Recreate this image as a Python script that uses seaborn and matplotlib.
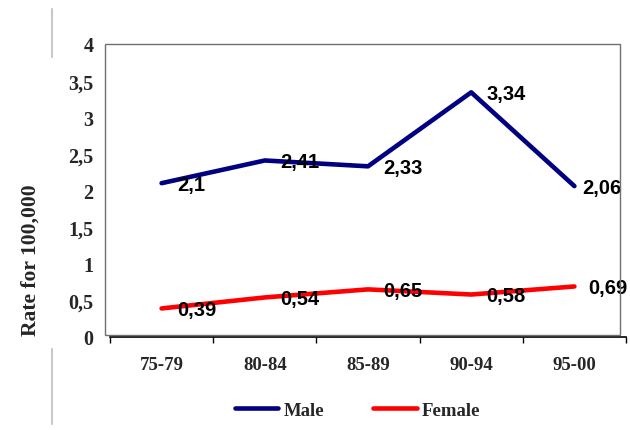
import pandas as pd
import matplotlib.pyplot as plt
import seaborn as sns
from matplotlib.lines import Line2D
from matplotlib.patches import Rectangle

# --- DATA ---
PERIODS = ['75-79', '80-84', '85-89', '90-94', '95-00']
MALE = [2.1, 2.41, 2.33, 3.34, 2.06]
FEMALE = [0.39, 0.54, 0.65, 0.58, 0.69]
Y_TICKS = [0, 0.5, 1, 1.5, 2, 2.5, 3, 3.5, 4]
Y_TICK_LABELS = ['0', '0,5', '1', '1,5', '2', '2,5', '3', '3,5', '4']

# --- STYLE ---
COLOR_MALE = '#000080'
COLOR_FEMALE = '#ff0000'
SERIF = ['Liberation Serif', 'DejaVu Serif']
SANS = ['Liberation Sans', 'DejaVu Sans']

sns.set_style('white')
plt.rcParams['font.family'] = SANS

df = pd.DataFrame({
    'period': PERIODS * 2,
    'rate': MALE + FEMALE,
    'sex': ['Male'] * len(PERIODS) + ['Female'] * len(PERIODS),
})

fig = plt.figure(figsize=(6.3, 4.31), dpi=100)
ax = fig.add_axes([110 / 630, 93 / 431, 516 / 630, 293 / 431])

sns.lineplot(data=df, x='period', y='rate', hue='sex', ax=ax,
             palette={'Male': COLOR_MALE, 'Female': COLOR_FEMALE},
             linewidth=3.3, legend=False, sort=False)

ax.set_xlim(-0.5, len(PERIODS) - 0.5)
ax.set_ylim(0, 4)

# ticks at category boundaries, labels in the middle
ax.set_xticks([i - 0.5 for i in range(len(PERIODS) + 1)])
ax.set_xticklabels([])
ax.set_xticks(range(len(PERIODS)), minor=True)
ax.set_xticklabels(PERIODS, minor=True, fontfamily=SERIF,
                   fontweight='bold', fontsize=13.5)
ax.tick_params(axis='x', which='major', direction='out', length=4.5,
               width=1, color='black', bottom=True)
ax.tick_params(axis='x', which='minor', length=0, pad=14)

ax.set_yticks(Y_TICKS)
ax.set_yticklabels(Y_TICK_LABELS, fontfamily=SERIF, fontweight='bold',
                   fontsize=14.5)
ax.tick_params(axis='y', length=0, pad=12)

ax.set_xlabel('')
ax.set_ylabel('')
for side in ['top', 'right', 'left']:
    ax.spines[side].set_visible(False)
ax.spines['bottom'].set_color('black')
ax.spines['bottom'].set_linewidth(1.2)

# plot area border (slightly offset from the category axis, as in Excel)
fig.patches.append(Rectangle((105 / 630, 95 / 431), 515 / 630, 291 / 431,
                             transform=fig.transFigure, fill=False,
                             edgecolor='#707070', linewidth=1.0))

# data labels
male_dx = [11, 11, 11, 11, 6]
female_dx = [11, 11, 11, 11, 10]
for i, v in enumerate(MALE):
    ax.annotate(f'{v:g}'.replace('.', ','), (i, v), xytext=(male_dx[i], -1),
                textcoords='offset points', ha='left', va='center',
                fontsize=14.5, fontweight='bold', color='black')
for i, v in enumerate(FEMALE):
    ax.annotate(f'{v:g}'.replace('.', ','), (i, v), xytext=(female_dx[i], -1),
                textcoords='offset points', ha='left', va='center',
                fontsize=14.5, fontweight='bold', color='black')

fig.text(31 / 630, 1 - 260 / 431, 'Rate for 100,000', rotation=90,
         ha='center', va='center', fontfamily=SERIF, fontweight='bold',
         fontsize=15.5)

# stray chart-border fragments on the left
for y0, y1 in [(10, 58), (350, 425)]:
    fig.add_artist(Line2D([52 / 630, 52 / 630], [1 - y0 / 431, 1 - y1 / 431],
                          transform=fig.transFigure, color='#c8c8c8',
                          linewidth=1.5))

handles = [Line2D([], [], color=COLOR_MALE, linewidth=3.3, solid_capstyle='round'),
           Line2D([], [], color=COLOR_FEMALE, linewidth=3.3, solid_capstyle='round')]
fig.legend(handles, ['Male', 'Female'], loc='center',
           bbox_to_anchor=(358 / 630, 20 / 431), ncol=2, frameon=False,
           handlelength=2.3, handletextpad=0.3, columnspacing=2.6,
           prop={'family': SERIF, 'weight': 'bold', 'size': 13.5})

fig.savefig('out.png', dpi=100)
